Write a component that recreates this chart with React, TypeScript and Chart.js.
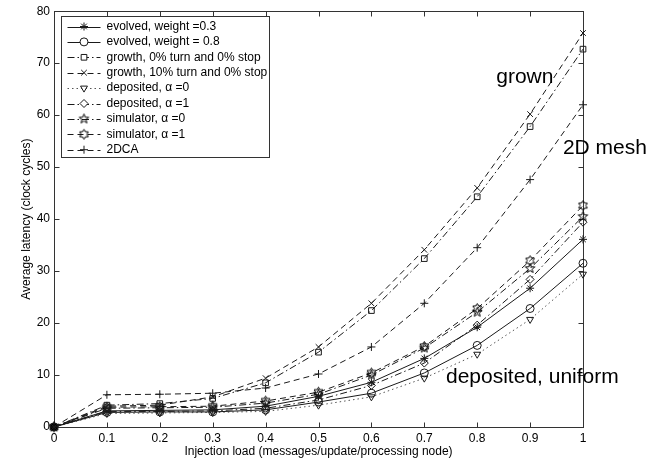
import React, { useEffect, useRef } from "react";
import { Chart, registerables } from "chart.js";
import { drawPoint } from "chart.js/helpers";

Chart.register(...registerables);

// ---- data ----
const loads = [0, 0.1, 0.2, 0.3, 0.4, 0.5, 0.6, 0.7, 0.8, 0.9, 1];
const evolved03 = [0, 3.1, 3.2, 3.3, 4.0, 5.9, 8.6, 13.2, 19.2, 26.7, 36.1];
const evolved08 = [0, 2.8, 2.9, 2.9, 3.3, 4.8, 6.5, 10.4, 15.7, 22.8, 31.5];
const growth0 = [0, 4.2, 4.5, 5.5, 8.5, 14.4, 22.4, 32.4, 44.3, 57.8, 72.7];
const growth10 = [0, 4.0, 4.2, 5.8, 9.4, 15.4, 23.8, 34.1, 46.0, 60.2, 75.8];
const depositedA0 = [0, 2.6, 2.7, 2.8, 3.0, 4.2, 5.8, 9.4, 14.0, 20.7, 29.4];
const depositedA1 = [0, 3.0, 3.0, 3.1, 3.6, 5.2, 8.0, 12.3, 19.6, 28.4, 39.4];
const simulatorA0 = [0, 3.6, 3.7, 3.8, 4.6, 6.3, 10.0, 15.2, 22.1, 30.5, 40.5];
const simulatorA1 = [0, 3.8, 3.9, 4.0, 5.0, 6.7, 10.4, 15.5, 22.8, 32.0, 42.6];
const dca2d = [0, 6.2, 6.3, 6.5, 7.5, 10.2, 15.4, 23.8, 34.5, 47.6, 62.0];

const seriesNames = [
  "evolved, weight =0.3",
  "evolved, weight = 0.8",
  "growth, 0% turn and 0% stop",
  "growth, 10% turn and 0% stop",
  "deposited, \u03b1 =0",
  "deposited, \u03b1 =1",
  "simulator, \u03b1 =0",
  "simulator, \u03b1 =1",
  "2DCA",
];

const annotations = [
  { text: "grown", x: 0.836, y: 67.3 },
  { text: "2D mesh", x: 0.962, y: 53.7 },
  { text: "deposited, uniform", x: 0.741, y: 9.6 },
];

const xTitle = "Injection load (messages/update/processing node)";
const yTitle = "Average latency (clock cycles)";

// ---- styles ----
const FONT = "'Liberation Sans', Arial, Helvetica, sans-serif";
const INK = "#1a1a1a";
const SOLID: number[] = [];
const DASH = [6, 4];
const DASHDOT = [7, 3, 1.5, 3];
const DOT = [1.5, 3];

function makeStarCanvas(points: number, innerRatio: number, r: number) {
  const size = Math.ceil(r * 2 + 3);
  const c = document.createElement("canvas");
  c.width = size;
  c.height = size;
  const g = c.getContext("2d")!;
  g.strokeStyle = "#000";
  g.lineWidth = 1;
  g.beginPath();
  const cx = size / 2;
  const cy = size / 2;
  for (let i = 0; i < points * 2; i++) {
    const rad = i % 2 === 0 ? r : r * innerRatio;
    const ang = -Math.PI / 2 + (i * Math.PI) / points;
    const px = cx + rad * Math.cos(ang);
    const py = cy + rad * Math.sin(ang);
    if (i === 0) g.moveTo(px, py);
    else g.lineTo(px, py);
  }
  g.closePath();
  g.stroke();
  return c;
}

export default function App() {
  const ref = useRef<HTMLCanvasElement | null>(null);

  useEffect(() => {
    const canvas = ref.current!;
    const pentagram = makeStarCanvas(5, 0.42, 5);
    const hexagram = makeStarCanvas(6, 0.58, 5);

    const styles: { style: any; rot: number; dash: number[] }[] = [
      { style: "star", rot: 0, dash: SOLID },
      { style: "circle", rot: 0, dash: SOLID },
      { style: "rect", rot: 0, dash: DASHDOT },
      { style: "crossRot", rot: 0, dash: DASH },
      { style: "triangle", rot: 180, dash: DOT },
      { style: "rectRot", rot: 0, dash: DASHDOT },
      { style: pentagram, rot: 0, dash: DASHDOT },
      { style: hexagram, rot: 0, dash: DASH },
      { style: "cross", rot: 0, dash: DASH },
    ];
    const values = [
      evolved03,
      evolved08,
      growth0,
      growth10,
      depositedA0,
      depositedA1,
      simulatorA0,
      simulatorA1,
      dca2d,
    ];

    const datasets = values.map((vals, i) => ({
      label: seriesNames[i],
      data: vals.map((v, j) => ({ x: loads[j], y: v })),
      borderColor: i === 4 ? "#555" : INK,
      borderWidth: 1,
      borderDash: styles[i].dash,
      pointStyle: styles[i].style,
      pointRotation: styles[i].rot,
      pointRadius: 4,
      pointBorderColor: INK,
      pointBorderWidth: 1,
      pointBackgroundColor: (c: any) => (c.dataIndex === 0 ? "#000" : "rgba(0,0,0,0)"),
      tension: 0,
      fill: false,
      clip: false,
    }));

    const framePlugin = {
      id: "frame",
      beforeDatasetsDraw(chart: any) {
        const { ctx, chartArea: a, scales } = chart;
        ctx.save();
        ctx.strokeStyle = "#333";
        ctx.lineWidth = 1;
        ctx.setLineDash([]);
        const L = Math.round(a.left) + 0.5;
        const R = Math.round(a.right) + 0.5;
        const T = Math.round(a.top) + 0.5;
        const B = Math.round(a.bottom) + 0.5;
        ctx.strokeRect(L, T, R - L, B - T);
        const tl = 5;
        ctx.beginPath();
        scales.x.ticks.forEach((t: any) => {
          const px = Math.round(scales.x.getPixelForValue(t.value)) + 0.5;
          ctx.moveTo(px, B);
          ctx.lineTo(px, B - tl);
          ctx.moveTo(px, T);
          ctx.lineTo(px, T + tl);
        });
        scales.y.ticks.forEach((t: any) => {
          const py = Math.round(scales.y.getPixelForValue(t.value)) + 0.5;
          ctx.moveTo(L, py);
          ctx.lineTo(L + tl, py);
          ctx.moveTo(R, py);
          ctx.lineTo(R - tl, py);
        });
        ctx.stroke();
        ctx.restore();
      },
      afterDatasetsDraw(chart: any) {
        const { ctx, chartArea: a, scales } = chart;
        ctx.save();
        // annotations
        ctx.fillStyle = "#000";
        ctx.font = `21px ${FONT}`;
        ctx.textBaseline = "middle";
        ctx.textAlign = "left";
        annotations.forEach((an) => {
          ctx.fillText(an.text, scales.x.getPixelForValue(an.x), scales.y.getPixelForValue(an.y));
        });
        // legend
        ctx.font = `12px ${FONT}`;
        const rowH = 15.4;
        const bx = Math.round(a.left + 7) + 0.5;
        const by = Math.round(a.top + 5) + 0.5;
        const bw = 208;
        const bh = 141;
        ctx.fillStyle = "#fff";
        ctx.fillRect(bx, by, bw, bh);
        ctx.strokeStyle = "#333";
        ctx.lineWidth = 1;
        ctx.setLineDash([]);
        ctx.strokeRect(bx, by, bw, bh);
        seriesNames.forEach((n, i) => {
          const cy = by + 10 + i * rowH;
          const x0 = bx + 6;
          const x1 = bx + 39;
          ctx.strokeStyle = i === 4 ? "#555" : INK;
          ctx.setLineDash(styles[i].dash);
          ctx.beginPath();
          ctx.moveTo(x0, Math.round(cy) + 0.5);
          ctx.lineTo(x1, Math.round(cy) + 0.5);
          ctx.stroke();
          ctx.setLineDash([]);
          ctx.strokeStyle = INK;
          ctx.fillStyle = "#fff";
          drawPoint(
            ctx,
            { pointStyle: styles[i].style, rotation: styles[i].rot, radius: 4, borderWidth: 1 } as any,
            (x0 + x1) / 2,
            cy
          );
          ctx.fillStyle = "#000";
          ctx.textBaseline = "middle";
          ctx.fillText(n, bx + 45, cy);
        });
        ctx.restore();
      },
    };

    const chart = new Chart(canvas, {
      type: "line",
      data: { datasets: datasets as any },
      options: {
        animation: false,
        responsive: false,
        maintainAspectRatio: false,
        layout: { padding: { top: 10, right: 79, left: 0, bottom: 0 } },
        plugins: { legend: { display: false }, tooltip: { enabled: false } },
        scales: {
          x: {
            type: "linear",
            min: 0,
            max: 1,
            ticks: {
              stepSize: 0.1,
              color: "#000",
              font: { family: FONT, size: 12 },
              padding: 4,
              maxRotation: 0,
              callback: (v: any) => String(Math.round(Number(v) * 10) / 10),
            },
            grid: { display: false, drawTicks: false },
            border: { display: false },
            title: {
              display: true,
              text: xTitle,
              color: "#000",
              font: { family: FONT, size: 12 },
              padding: { top: 0, bottom: 2 },
            },
            afterFit: (s: any) => {
              s.height = 34;
            },
          },
          y: {
            type: "linear",
            min: 0,
            max: 80,
            ticks: {
              stepSize: 10,
              color: "#000",
              font: { family: FONT, size: 12 },
              padding: 4,
            },
            grid: { display: false, drawTicks: false },
            border: { display: false },
            title: {
              display: true,
              text: yTitle,
              color: "#000",
              font: { family: FONT, size: 12 },
              padding: { top: 19, bottom: 0 },
            },
            afterFit: (s: any) => {
              s.width = 54;
            },
          },
        },
      },
      plugins: [framePlugin],
    });
    return () => chart.destroy();
  }, []);

  return (
    <div style={{ position: "absolute", left: 0, top: 0, width: 662, height: 461, background: "#fff" }}>
      <canvas ref={ref} width={662} height={461} style={{ display: "block" }} />
    </div>
  );
}
